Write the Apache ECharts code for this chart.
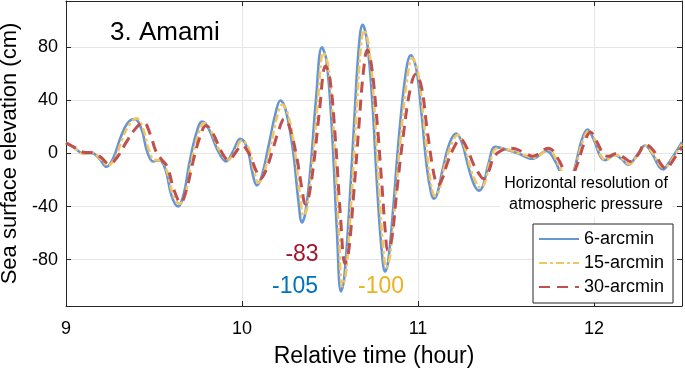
<!DOCTYPE html>
<html>
<head>
<meta charset="utf-8">
<script src="https://cdn.jsdelivr.net/npm/echarts@6/dist/echarts.min.js"></script>
<style>
  html, body { margin: 0; padding: 0; background: #fff; }
  #chart { width: 685px; height: 369px; }
</style>
</head>
<body>
<div id="chart"></div>
<script>
// tick values
var xTicks = [9, 10, 11, 12];
var yTicks = [-80, -40, 0, 40, 80];

// 6-arcmin
var tBlue = [9.00, 9.05, 9.10, 9.145, 9.19, 9.23, 9.27, 9.31, 9.35, 9.39, 9.43, 9.46, 9.495, 9.53, 9.565, 9.60, 9.636, 9.67, 9.70, 9.74,
  9.774, 9.81, 9.86, 9.91, 9.95, 9.99, 10.03, 10.06, 10.084, 10.11, 10.15, 10.19, 10.218, 10.25, 10.29, 10.32, 10.341, 10.36, 10.39, 10.42,
  10.454, 10.48, 10.51, 10.54, 10.562, 10.58, 10.61, 10.64, 10.665, 10.685, 10.71, 10.74, 10.77, 10.795, 10.813, 10.83, 10.86, 10.89, 10.93, 10.959,
  10.99, 11.02, 11.05, 11.075, 11.09, 11.11, 11.14, 11.18, 11.217, 11.25, 11.29, 11.32, 11.346, 11.37, 11.40, 11.44, 11.50, 11.57, 11.65, 11.73,
  11.78, 11.85, 11.89, 11.93, 11.963, 12.00, 12.035, 12.063, 12.09, 12.12, 12.155, 12.195, 12.24, 12.29, 12.33, 12.37, 12.394, 12.42, 12.46, 12.50];
var vBlue = [8, 4, 0, 0.5, -4, -10, -3, 12, 23, 26, 18, 2, -6, -5, -12, -32, -40, -30, -8, 15,
  24, 19, 3, -6, 2, 11, 4, -15, -24, -18, 5, 30, 40, 32, 2, -35, -52, -45, -10, 40,
  80, 70, 20, -60, -104, -95, -40, 30, 82, 97, 85, 40, -30, -75, -89, -82, -40, 10, 60, 74,
  64, 30, -10, -30, -34, -30, -12, 8, 15, 8, -12, -24, -28, -24, -8, 5, 3, 0, -4, 2,
  -6, -25, -11, 10, 18, 10, -2, -5, -3, -1, -4, -8.5, -2, 6, 0, -10, -12, -8, 0, 8.5];

// 15-arcmin
var tYellow = [9.00, 9.05, 9.10, 9.15, 9.195, 9.238, 9.28, 9.32, 9.36, 9.40, 9.44, 9.47, 9.505, 9.535, 9.57, 9.61, 9.645, 9.68, 9.71, 9.75,
  9.784, 9.82, 9.87, 9.92, 9.96, 10.00, 10.04, 10.07, 10.094, 10.12, 10.16, 10.20, 10.228, 10.26, 10.30, 10.33, 10.35, 10.37, 10.40, 10.43,
  10.463, 10.49, 10.52, 10.55, 10.57, 10.59, 10.62, 10.65, 10.675, 10.694, 10.72, 10.75, 10.78, 10.803, 10.82, 10.84, 10.87, 10.90, 10.94, 10.967,
  11.00, 11.03, 11.06, 11.083, 11.098, 11.12, 11.15, 11.19, 11.225, 11.26, 11.30, 11.33, 11.355, 11.38, 11.41, 11.45, 11.51, 11.58, 11.66, 11.74,
  11.80, 11.855, 11.895, 11.935, 11.97, 12.01, 12.04, 12.07, 12.10, 12.125, 12.16, 12.20, 12.245, 12.295, 12.335, 12.375, 12.40, 12.43, 12.47, 12.50];
var vYellow = [8, 4, 0, 0.5, -4, -9, -3, 11, 22, 26.5, 18, 3, -5, -5, -12, -32, -38, -29, -8, 14,
  23, 18, 3, -5, 2, 10, 3, -14, -22, -17, 4, 28, 37, 30, 2, -33, -47, -41, -8, 38,
  76, 66, 18, -58, -100, -91, -37, 30, 80, 93, 81, 38, -30, -72, -86, -78, -37, 10, 58, 72,
  61, 28, -10, -29, -32, -28, -10, 7, 14, 7, -12, -22, -26, -22, -6, 4, 3, 0, -3, 3,
  -9, -23, -10, 9, 17, 9, -2, -5, -2, -1, -4, -8, -2, 6, 0, -9, -11, -7, 1, 7];

// 30-arcmin
var tRed = [9.00, 9.05, 9.10, 9.15, 9.20, 9.245, 9.29, 9.34, 9.39, 9.44, 9.48, 9.51, 9.54, 9.575, 9.615, 9.652, 9.685, 9.72, 9.76, 9.795,
  9.835, 9.885, 9.925, 9.965, 9.998, 10.04, 10.08, 10.105, 10.135, 10.175, 10.21, 10.24, 10.27, 10.31, 10.34, 10.36, 10.38, 10.41, 10.44, 10.475,
  10.50, 10.53, 10.56, 10.586, 10.605, 10.635, 10.665, 10.69, 10.712, 10.735, 10.765, 10.795, 10.815, 10.828, 10.85, 10.88, 10.915, 10.955, 10.988, 11.02,
  11.05, 11.08, 11.10, 11.112, 11.135, 11.17, 11.21, 11.24, 11.275, 11.315, 11.35, 11.372, 11.40, 11.43, 11.47, 11.53, 11.60, 11.65, 11.74, 11.80,
  11.86, 11.905, 11.945, 11.98, 12.02, 12.055, 12.08, 12.13, 12.17, 12.205, 12.25, 12.29, 12.34, 12.38, 12.41, 12.44, 12.47, 12.50];
var vRed = [8, 4.5, 1, 0.5, -3, -8, -3, 8, 18, 23.5, 14, 2, -4, -10, -28, -37, -27, -7, 12, 21,
  15, 1, -5, 1, 6, 0, -13, -19, -13, 3, 18, 26, 20, -2, -26, -38, -32, -5, 32, 66,
  56, 12, -48, -83, -75, -30, 22, 62, 78, 67, 28, -24, -60, -73, -65, -28, 12, 48, 60, 50,
  20, -8, -21, -24, -20, -6, 6, 11, 5, -8, -16, -19, -14, -3, 2, 4, 1, -2, 4, -5,
  -20, -8, 8, 16, 8, -1, -2, 0, -3, -6, -1, 7, 2, -8, -11.5, -7, -1, 5];

function zip(t, v) {
  return t.map(function (x, i) { return [x, v[i]]; });
}

var font = 'Liberation Sans, Arial, sans-serif';
var axisColor = '#262626';

var myChart = echarts.init(document.getElementById('chart'), null, { renderer: 'canvas' });
var option = {
  animation: false,
  backgroundColor: '#fff',
  textStyle: { fontFamily: font },
  grid: { left: 66, right: 3, top: 1, bottom: 63, containLabel: false, outerBoundsMode: 'none' },
  legend: {
    orient: 'vertical',
    left: 533,
    top: 224,
    padding: [6, 9, 7, 5],
    itemWidth: 40,
    itemHeight: 14,
    itemGap: 6,
    backgroundColor: '#fff',
    borderColor: axisColor,
    borderWidth: 1,
    itemStyle: { opacity: 0 },
    textStyle: { fontSize: 18, color: '#000', lineHeight: 16, padding: [0, 0, 0, 0] },
    data: ['6-arcmin', '15-arcmin', '30-arcmin']
  },
  xAxis: [{
    type: 'value',
    min: 9,
    max: 12.5,
    name: 'Relative time (hour)',
    nameLocation: 'middle',
    nameGap: 39,
    nameTextStyle: { fontSize: 23, color: '#000' },
    axisLine: { onZero: false, lineStyle: { color: axisColor, width: 1 } },
    axisTick: { inside: true, length: 5, customValues: xTicks, lineStyle: { color: axisColor } },
    axisLabel: { customValues: xTicks, fontSize: 18, color: '#000', margin: 14 },
    splitLine: { show: true, lineStyle: { color: '#e6e6e6', width: 1 } }
  }, {
    type: 'value',
    position: 'top',
    min: 9,
    max: 12.5,
    axisLine: { onZero: false, lineStyle: { color: axisColor, width: 1 } },
    axisTick: { inside: true, length: 5, customValues: xTicks, lineStyle: { color: axisColor } },
    axisLabel: { show: false },
    splitLine: { show: false }
  }],
  yAxis: [{
    type: 'value',
    min: -115,
    max: 115,
    name: 'Sea surface elevation (cm)',
    nameLocation: 'middle',
    nameGap: 40,
    nameTextStyle: { fontSize: 22, color: '#000' },
    axisLine: { show: true, onZero: false, lineStyle: { color: axisColor, width: 1 } },
    axisTick: { show: true, inside: true, length: 5, customValues: yTicks, lineStyle: { color: axisColor } },
    axisLabel: { customValues: yTicks, fontSize: 18, color: '#000', margin: 8 },
    splitLine: { show: true, lineStyle: { color: '#e6e6e6', width: 1 } }
  }, {
    type: 'value',
    position: 'right',
    min: -115,
    max: 115,
    axisLine: { show: true, onZero: false, lineStyle: { color: axisColor, width: 1 } },
    axisTick: { show: true, inside: true, length: 5, customValues: yTicks, lineStyle: { color: axisColor } },
    axisLabel: { show: false },
    splitLine: { show: false }
  }],
  series: [{
    name: '6-arcmin',
    type: 'line',
    data: zip(tBlue, vBlue),
    smooth: 0.4,
    symbol: 'none',
    lineStyle: { color: '#6495d6', width: 2.6, type: 'solid' },
    itemStyle: { color: '#6495d6' }
  }, {
    name: '15-arcmin',
    type: 'line',
    data: zip(tYellow, vYellow),
    smooth: 0.4,
    symbol: 'none',
    lineStyle: { color: '#f4c55e', width: 2.6, type: [8, 3, 3, 3] },
    itemStyle: { color: '#f4c55e' }
  }, {
    name: '30-arcmin',
    type: 'line',
    data: zip(tRed, vRed),
    smooth: 0.4,
    symbol: 'none',
    lineStyle: { color: '#c0504d', width: 3, type: [11, 7] },
    itemStyle: { color: '#c0504d' }
  }],
  graphic: [{
    type: 'text',
    z: 100,
    x: 110,
    y: 33,
    style: { text: '3. Amami', font: '26px ' + font, fill: '#000', verticalAlign: 'middle' }
  }, {
    type: 'text',
    z: 100,
    x: 586,
    y: 194,
    style: {
      text: 'Horizontal resolution of\natmospheric pressure',
      font: '16px ' + font,
      fill: '#000',
      align: 'center',
      verticalAlign: 'middle',
      lineHeight: 21,
      backgroundColor: '#fff',
      padding: [2, 4]
    }
  }, {
    type: 'text',
    z: 100,
    x: 302,
    y: 255,
    style: { text: '-83', font: '23px ' + font, fill: '#a2142f', align: 'center', verticalAlign: 'middle' }
  }, {
    type: 'text',
    z: 100,
    x: 295,
    y: 287,
    style: { text: '-105', font: '23px ' + font, fill: '#0072bd', align: 'center', verticalAlign: 'middle' }
  }, {
    type: 'text',
    z: 100,
    x: 381,
    y: 287,
    style: { text: '-100', font: '23px ' + font, fill: '#edb120', align: 'center', verticalAlign: 'middle' }
  }]
};
myChart.setOption(option);
</script>
</body>
</html>
